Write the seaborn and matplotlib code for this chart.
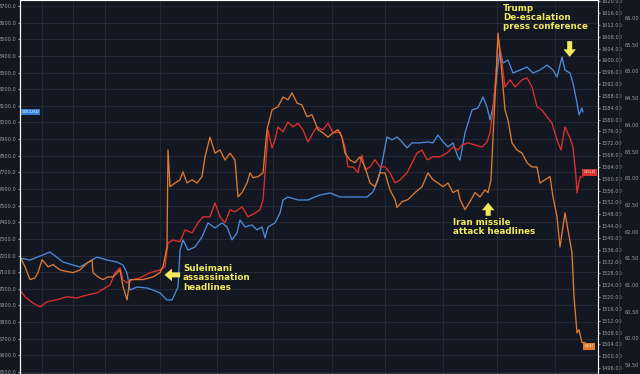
import numpy as np
import matplotlib
matplotlib.use("Agg")
import matplotlib.pyplot as plt
import seaborn as sns

# Bitcoin (left axis), bar index vs price
btc_t = [0, 10, 30, 43, 60, 67, 77, 87, 97, 103, 107, 110, 117, 127, 133, 140, 147,
         152, 158, 160, 163, 168, 175, 182, 188, 195, 202, 207, 212, 217, 220, 225,
         232, 237, 242, 245, 248, 255, 260, 263, 268, 278, 288, 295, 300, 310, 320,
         330, 340, 347, 353, 358, 362, 367, 372, 377, 382, 387, 392, 400, 408, 413,
         418, 423, 428, 433, 438, 440, 445, 452, 458, 463, 467, 470, 473, 477, 480,
         483, 488, 493, 500, 507, 513, 520, 527, 533, 537, 542, 545, 550, 553, 557,
         559, 562, 563]
btc = [7185, 7173, 7221, 7161, 7131, 7155, 7191, 7173, 7161, 7143, 7095, 6993, 7011,
       7005, 6993, 6975, 6933, 6933, 7011, 7233, 7294, 7233, 7251, 7312, 7396, 7366,
       7396, 7372, 7294, 7336, 7414, 7372, 7384, 7354, 7372, 7306, 7372, 7396, 7456,
       7534, 7552, 7534, 7534, 7552, 7564, 7576, 7552, 7552, 7552, 7552, 7582, 7654,
       7756, 7913, 7895, 7913, 7883, 7847, 7877, 7877, 7883, 7877, 7925, 7883, 7853,
       7877, 7792, 7774, 7937, 8075, 8087, 8153, 8093, 8015, 8093, 8297, 8436, 8357,
       8375, 8297, 8315, 8333, 8297, 8315, 8345, 8315, 8273, 8393, 8315, 8297, 8237,
       8117, 8045, 8087, 8063]

# Gold (first right axis)
gold_t = [0, 5, 13, 20, 27, 37, 47, 57, 67, 77, 85, 90, 95, 100, 103, 107, 112, 120,
          130, 140, 145, 148, 153, 160, 165, 172, 178, 183, 190, 195, 200, 205, 210,
          215, 222, 228, 235, 240, 243, 247, 248, 252, 255, 258, 263, 268, 273, 278,
          283, 288, 293, 297, 303, 308, 313, 320, 325, 328, 333, 338, 342, 345, 350,
          355, 360, 365, 370, 375, 380, 387, 392, 397, 402, 407, 413, 420, 427, 433,
          438, 442, 448, 455, 462, 467, 470, 473, 477, 478, 482, 485, 490, 495, 502,
          507, 512, 517, 522, 527, 532, 537, 541, 545, 550, 553, 556, 557, 560, 563]
gold = [1522.4, 1520.1, 1518.0, 1516.7, 1518.4, 1519.1, 1520.1, 1519.7, 1520.7,
        1521.4, 1523.1, 1524.1, 1528.2, 1529.9, 1525.8, 1524.8, 1525.8, 1526.5,
        1528.2, 1529.2, 1530.2, 1538.3, 1539.3, 1538.7, 1542.7, 1541.7, 1545.1,
        1547.1, 1547.1, 1551.8, 1547.1, 1545.1, 1549.5, 1548.8, 1550.5, 1547.1,
        1548.4, 1549.5, 1552.8, 1570.7, 1576.5, 1570.4, 1573.1, 1577.5, 1575.8,
        1579.2, 1577.5, 1578.8, 1576.5, 1572.4, 1575.5, 1577.5, 1576.5, 1578.8,
        1575.5, 1575.8, 1570.7, 1564.0, 1564.0, 1562.0, 1568.0, 1563.0, 1564.0,
        1566.4, 1564.0, 1564.0, 1562.0, 1558.6, 1559.6, 1562.0, 1565.3, 1568.7,
        1569.7, 1566.4, 1567.4, 1567.4, 1568.7, 1570.7, 1569.7, 1571.4, 1572.1,
        1571.4, 1570.7, 1572.4, 1575.5, 1583.2, 1600.1, 1608.6, 1599.1, 1591.0,
        1593.4, 1591.0, 1593.4, 1594.1, 1591.0, 1584.3, 1583.2, 1580.9, 1578.8,
        1573.1, 1569.7, 1577.5, 1573.8, 1570.7, 1560.6, 1555.2, 1560.6, 1560.6]

# Crude oil (second right axis)
oil_t = [0, 5, 10, 15, 18, 22, 25, 28, 33, 40, 47, 53, 60, 67, 72, 73, 78, 83, 88,
         93, 100, 103, 107, 110, 115, 123, 133, 140, 143, 147, 148, 150, 155, 160,
         163, 167, 172, 177, 182, 185, 190, 195, 200, 205, 210, 215, 218, 222, 227,
         230, 233, 238, 243, 247, 252, 258, 263, 268, 272, 277, 282, 287, 292, 298,
         303, 308, 313, 318, 322, 325, 330, 335, 340, 345, 350, 355, 360, 365, 370,
         375, 377, 382, 388, 395, 402, 408, 413, 418, 423, 428, 433, 438, 440, 445,
         450, 455, 460, 465, 468, 471, 473, 476, 478, 481, 483, 485, 488, 492, 497,
         502, 507, 512, 517, 520, 525, 530, 533, 537, 540, 543, 545, 548, 552, 554,
         557, 559, 562, 565]
oil = [61.53, 61.34, 61.10, 61.13, 61.23, 61.47, 61.41, 61.34, 61.38, 61.28, 61.25,
       61.23, 61.28, 61.41, 61.47, 61.23, 61.15, 61.10, 61.15, 61.15, 61.28, 60.97,
       60.72, 61.10, 61.10, 61.10, 61.15, 61.23, 61.34, 61.71, 63.53, 62.84, 62.91,
       62.97, 63.12, 62.91, 62.97, 62.91, 63.03, 63.40, 63.77, 63.47, 63.53, 63.34,
       63.47, 63.34, 62.65, 62.73, 62.91, 63.10, 63.01, 63.03, 63.10, 63.91, 64.28,
       64.34, 64.52, 64.47, 64.60, 64.41, 64.37, 64.15, 64.19, 63.91, 63.85, 63.77,
       63.85, 63.91, 63.77, 63.47, 63.34, 63.29, 63.40, 63.21, 62.91, 62.84, 63.10,
       63.10, 62.78, 62.60, 62.45, 62.56, 62.60, 62.73, 62.84, 63.10, 62.97, 62.91,
       62.84, 62.91, 62.73, 62.78, 62.60, 62.41, 62.56, 62.73, 62.65, 62.78, 62.73,
       62.97, 63.77, 64.84, 65.72, 65.16, 64.71, 64.28, 64.09, 63.66, 63.53, 63.47,
       63.29, 63.21, 63.21, 62.91, 62.97, 63.03, 62.65, 62.28, 61.71, 62.09, 62.35,
       62.03, 61.60, 60.78, 60.10, 60.16, 59.92, 59.92]

day_breaks = [22, 53, 85, 140, 197, 253, 312, 365, 423, 477, 535]

BG = "#131722"
GRID = "#232733"
TXT = "#9ba0aa"
BLUE = "#4a8ad8"
RED = "#e0302b"
ORANGE = "#dd7a2e"
YELLOW = "#f2ea5c"

sns.set_style("dark")
plt.rcParams["font.family"] = ["DejaVu Sans"]

fig = plt.figure(figsize=(6.4, 3.74), dpi=100, facecolor=BG)
ax = fig.add_axes([20 / 640, 0, 578 / 640, 1])
ax.set_facecolor(BG)

sns.lineplot(x=btc_t, y=btc, ax=ax, color=BLUE, linewidth=0.95, estimator=None, sort=False)
ax.set_xlim(0, 578)
ax.set_ylim(6488, 8736)
ax.set_yticks(np.arange(6500, 8701, 100))
ax.yaxis.set_major_formatter(matplotlib.ticker.FormatStrFormatter("%.1f"))
ax.set_xticks(day_breaks)
ax.set_xticklabels([])
ax.grid(True, color=GRID, linewidth=0.8)
ax.tick_params(axis="y", labelsize=3.6, colors=TXT, length=1.5, pad=1)
ax.tick_params(axis="x", length=0)
for s in ax.spines.values():
    s.set_color("#2a2e39")
    s.set_linewidth(0.6)

ax_g = ax.twinx()
sns.lineplot(x=gold_t, y=gold, ax=ax_g, color=RED, linewidth=0.95, estimator=None, sort=False)
ax_g.set_ylim(1494, 1620.4)
ax_g.set_yticks(np.arange(1496, 1621, 4))
ax_g.yaxis.set_major_formatter(matplotlib.ticker.FormatStrFormatter("%.2f"))
ax_g.tick_params(axis="y", labelsize=3.6, colors=TXT, length=1.5, pad=1)
ax_g.grid(False)

ax_o = ax.twinx()
sns.lineplot(x=oil_t, y=oil, ax=ax_o, color=ORANGE, linewidth=0.95, estimator=None, sort=False)
ax_o.set_ylim(59.33, 66.34)
ax_o.set_yticks(np.arange(59.5, 66.01, 0.5))
ax_o.yaxis.set_major_formatter(matplotlib.ticker.FormatStrFormatter("%.2f"))
ax_o.spines["right"].set_position(("axes", 1.036))
ax_o.spines["right"].set_color("#2a2e39")
ax_o.tick_params(axis="y", labelsize=3.6, colors=TXT, length=0, pad=4)
ax_o.grid(False)

for a in (ax_g, ax_o):
    a.set_ylabel("")
    a.set_xlabel("")
ax.set_ylabel("")

# last-price tags
ax.text(0.004, (btc[-1] - 6488) / (8736 - 6488), "BTCUSD", transform=ax.transAxes,
        fontsize=3, color="white", va="center", ha="left",
        bbox=dict(boxstyle="square,pad=0.3", fc="#2f7fd6", ec="none"))
ax_g.text(0.985, (gold[-1] - 1494) / (1620.4 - 1494) + 0.012, "GOLD", transform=ax_g.transAxes,
          fontsize=3, color="white", va="center", ha="center",
          bbox=dict(boxstyle="square,pad=0.3", fc="#d9312b", ec="none"))
ax_o.text(0.985, (oil[-1] - 59.33) / (66.34 - 59.33) - 0.01, "CL1!", transform=ax_o.transAxes,
          fontsize=3, color="white", va="center", ha="center",
          bbox=dict(boxstyle="square,pad=0.3", fc="#e07b2c", ec="none"))

# annotations
txt_kw = dict(transform=ax_o.transAxes, color=YELLOW, fontsize=6.3, fontweight="bold",
              va="top", ha="left", linespacing=1.05)
ax_o.text(0.282, 0.294, "Suleimani\nassassination\nheadlines", **txt_kw)
ax_o.text(0.836, 0.99, "Trump\nDe-escalation\npress conference", **txt_kw)
ax_o.text(0.749, 0.418, "Iran missile\nattack headlines", **txt_kw)

arr = dict(arrowstyle="simple,head_width=1.0,head_length=0.6,tail_width=0.4",
           color=YELLOW, lw=0, shrinkA=0, shrinkB=0, mutation_scale=9)
ax_o.annotate("", xy=(0.250, 0.265), xytext=(0.277, 0.265),
              xycoords="axes fraction", textcoords="axes fraction", arrowprops=arr)
ax_o.annotate("", xy=(0.810, 0.458), xytext=(0.810, 0.423),
              xycoords="axes fraction", textcoords="axes fraction", arrowprops=arr)
ax_o.annotate("", xy=(0.951, 0.848), xytext=(0.951, 0.890),
              xycoords="axes fraction", textcoords="axes fraction", arrowprops=arr)

fig.savefig("out.png", dpi=100, facecolor=BG)
